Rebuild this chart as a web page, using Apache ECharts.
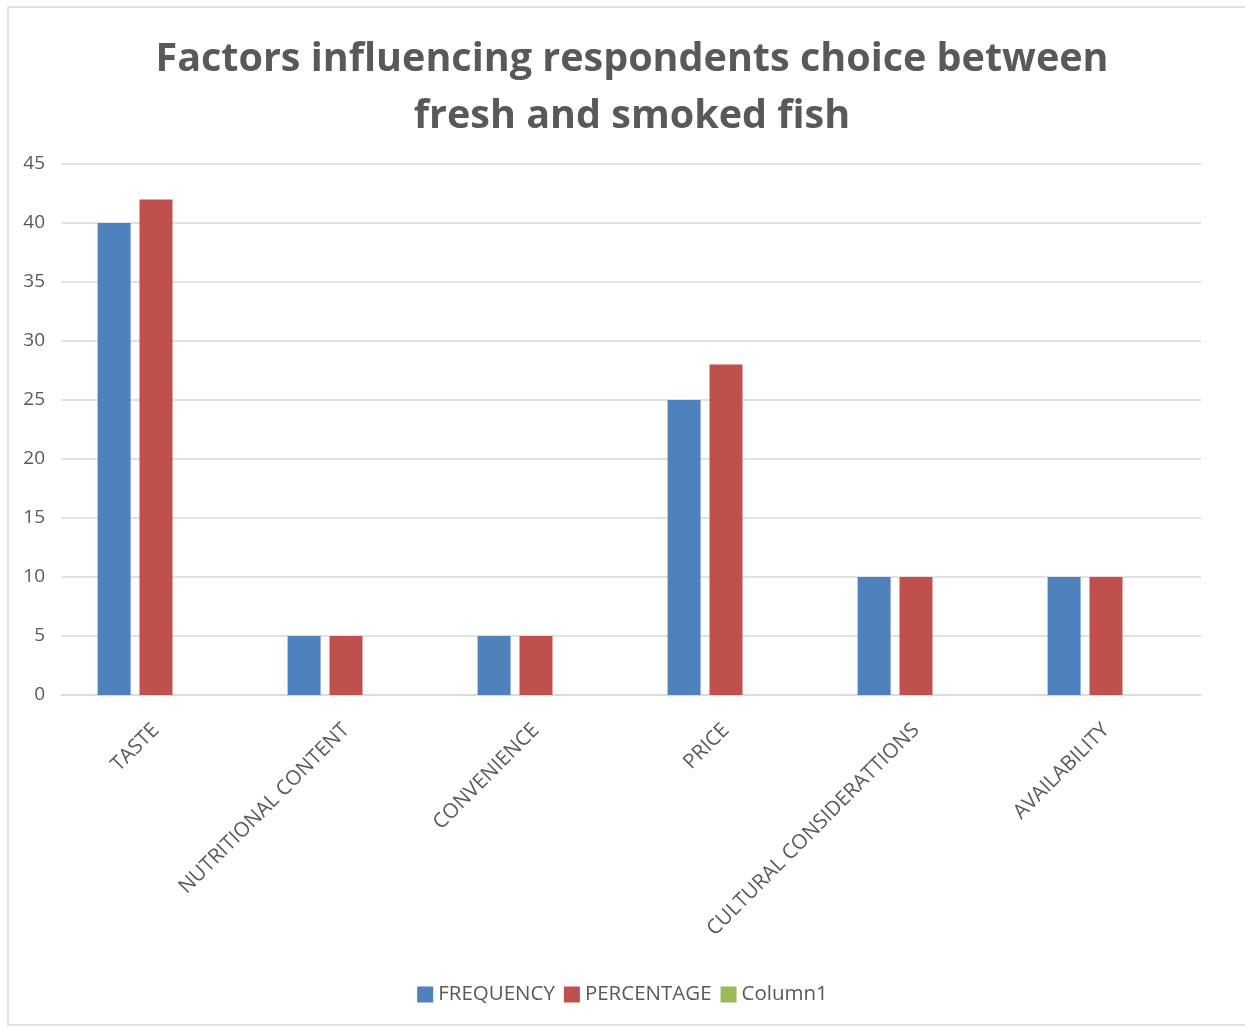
<!DOCTYPE html>
<html>
<head>
<meta charset="utf-8">
<script src="https://cdn.jsdelivr.net/npm/echarts@6/dist/echarts.min.js"></script>
<style>
  html, body { margin: 0; padding: 0; background: #fff; }
  #main { width: 1245px; height: 1028px; }
</style>
</head>
<body>
<div id="main"></div>
<script>
  // data
  var categories = ['TASTE', 'NUTRITIONAL CONTENT', 'CONVENIENCE', 'PRICE', 'CULTURAL CONSIDERATTIONS', 'AVAILABILITY'];
  var frequency = [40, 5, 5, 25, 10, 10];
  var percentage = [42, 5, 5, 28, 10, 10];
  var column1 = [null, null, null, null, null, null];
  var yTicks = { min: 0, max: 45, interval: 5 };

  var font = 'Open Sans';
  var textColor = '#595959';

  var chart = echarts.init(document.getElementById('main'));

  var option = {
    backgroundColor: '#fff',
    animation: false,
    title: {
      text: 'Factors influencing respondents choice between\nfresh and smoked fish',
      left: 627,
      top: 26,
      textAlign: 'center',
      textStyle: {
        fontFamily: font,
        fontWeight: 'bold',
        fontSize: 39.5,
        lineHeight: 57,
        color: textColor
      }
    },
    graphic: [{
      type: 'rect',
      shape: { x: 8, y: 7, width: 1245, height: 1018 },
      style: { fill: 'none', stroke: '#d9d9d9', lineWidth: 1.5 },
      silent: true
    }],
    legend: {
      data: ['FREQUENCY', 'PERCENTAGE', 'Column1'],
      bottom: 18,
      left: 'center',
      icon: 'rect',
      itemWidth: 16,
      itemHeight: 16,
      itemGap: 9,
      textStyle: { fontFamily: font, fontSize: 20.5, color: textColor }
    },
    grid: {
      left: 61,
      right: 44,
      top: 164,
      bottom: 333
    },
    xAxis: {
      type: 'category',
      data: categories,
      axisTick: { show: false },
      axisLine: { lineStyle: { color: '#d9d9d9', width: 1.5 } },
      axisLabel: {
        rotate: 45,
        interval: 0,
        margin: 32,
        fontFamily: font,
        fontSize: 20.5,
        color: textColor
      }
    },
    yAxis: {
      type: 'value',
      min: yTicks.min,
      max: yTicks.max,
      interval: yTicks.interval,
      axisLine: { show: false },
      axisTick: { show: false },
      splitLine: { lineStyle: { color: '#d9d9d9', width: 1.5 } },
      axisLabel: {
        margin: 16,
        fontFamily: font,
        fontSize: 19,
        color: textColor
      }
    },
    series: [
      { name: 'FREQUENCY', type: 'bar', data: frequency, barWidth: 33, barGap: '27%', itemStyle: { color: '#4f81bd' } },
      { name: 'PERCENTAGE', type: 'bar', data: percentage, barWidth: 33, barGap: '27%', itemStyle: { color: '#c0504d' } },
      { name: 'Column1', type: 'bar', data: column1, barWidth: 33, barGap: '27%', itemStyle: { color: '#9bbb59' } }
    ]
  };

  chart.setOption(option);
</script>
</body>
</html>
